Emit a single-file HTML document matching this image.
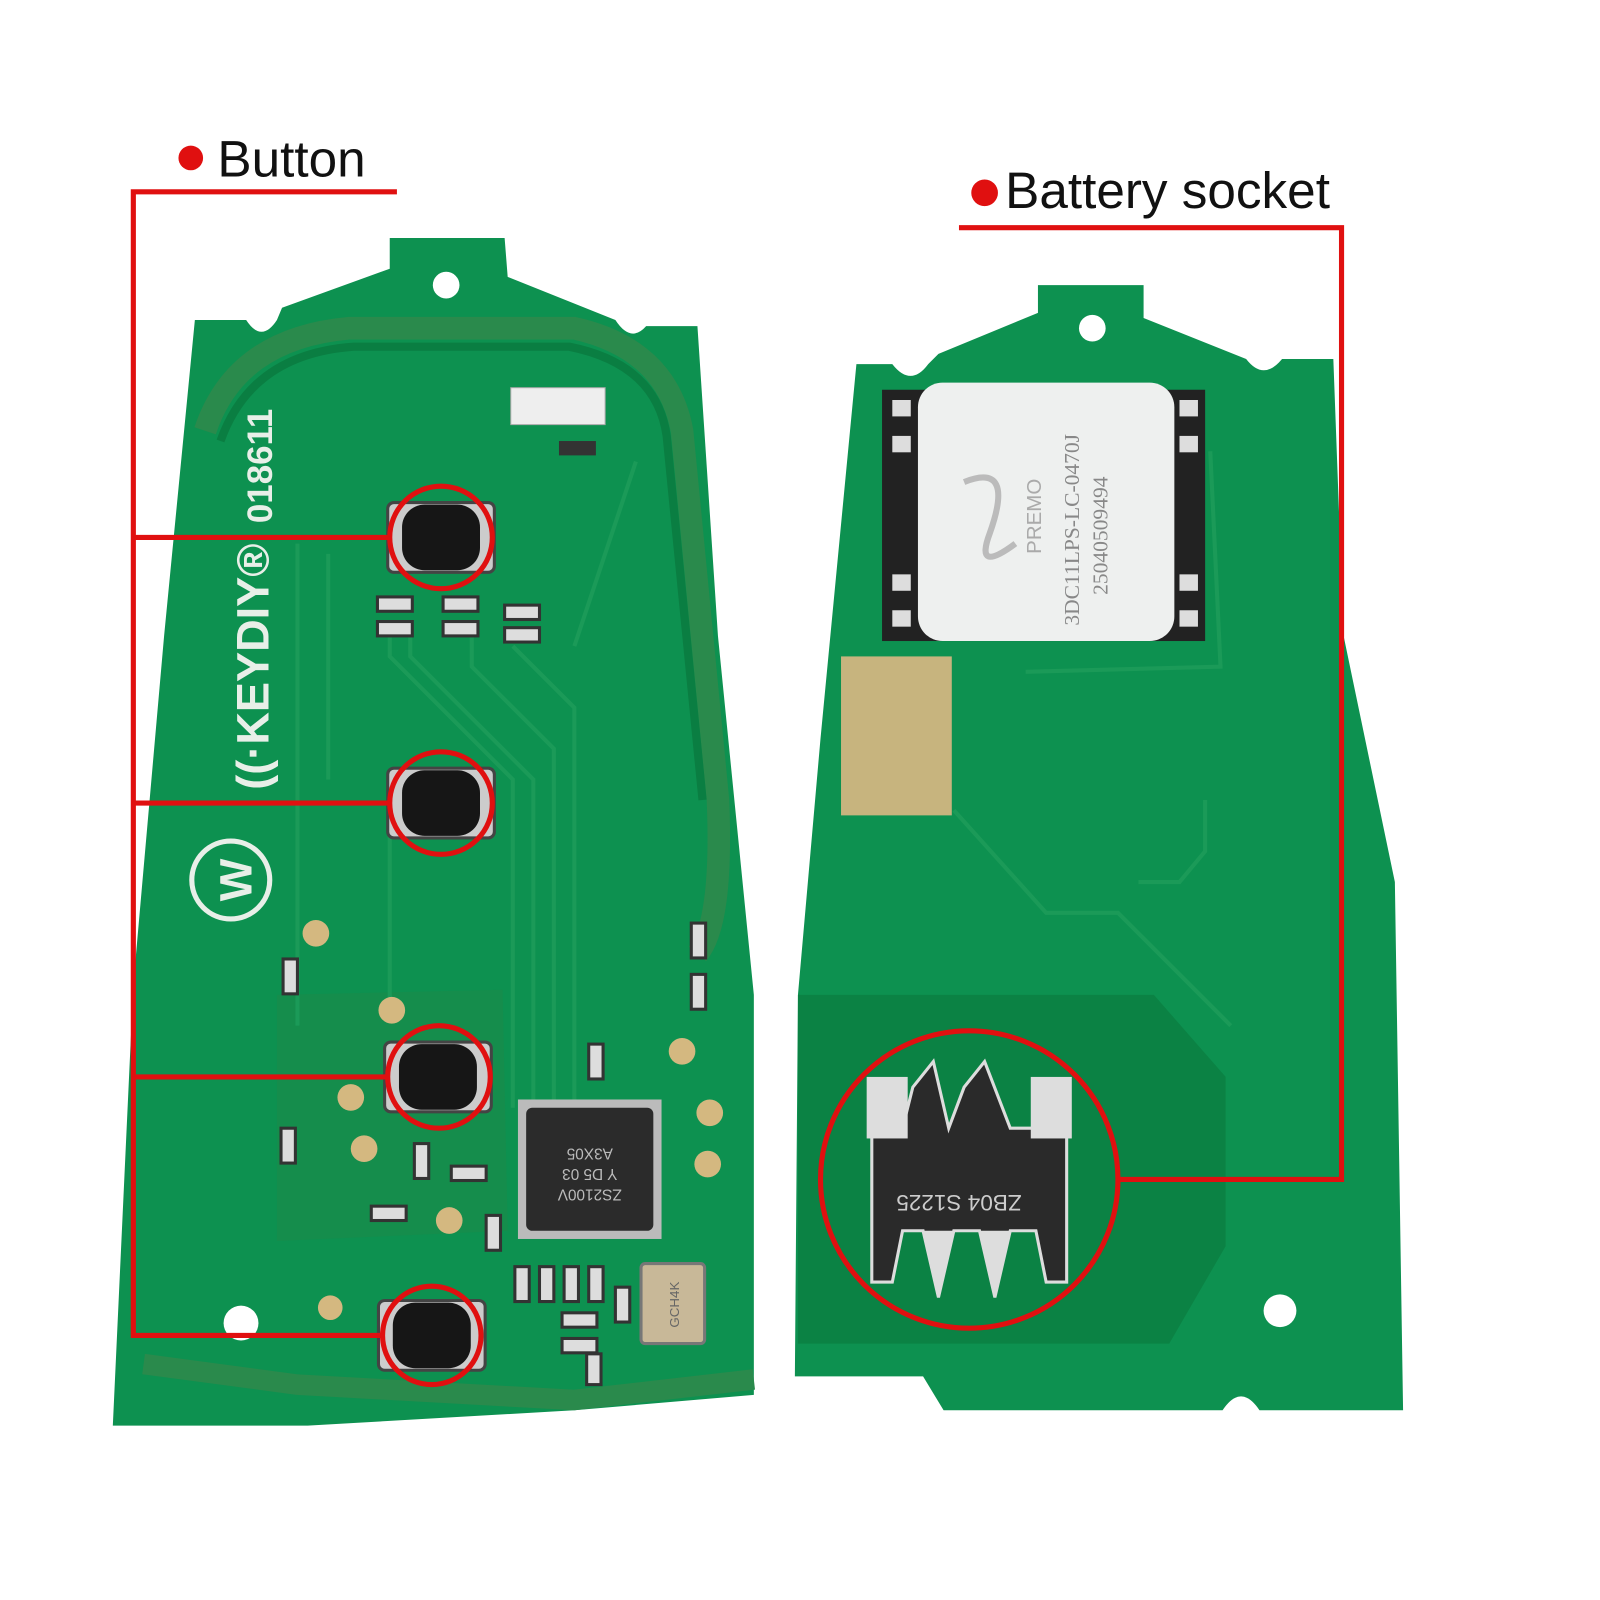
<!DOCTYPE html>
<html><head><style>html,body{margin:0;padding:0;background:#fff}svg{display:block}</style></head>
<body>
<svg width="1600" height="1600" viewBox="0 0 1560 1560" xmlns="http://www.w3.org/2000/svg" font-family="Liberation Sans, sans-serif">
<defs>
<g id="btn"><rect x="-52" y="-34" width="104" height="68" rx="6" fill="#ccc" stroke="#444" stroke-width="3"/><rect x="-38" y="-32" width="76" height="64" rx="22" fill="#161616"/></g>
</defs>
<!-- left PCB -->
<path d="M190,312 L240,312 Q255,335 270,312 L275,300 L380,262 L380,232 L492,232 L495,270 L600,312 Q615,335 630,318 L680,318 L700,620 L735,970 L735,1360 L560,1375 L300,1390 L110,1390 L130,960 L160,620 Z" fill="#0d9150"/>
<path d="M200,420 Q230,330 340,320 L560,320 Q650,340 665,420 L700,780 Q705,900 680,930" fill="none" stroke="#2a8a4c" stroke-width="22"/>
<path d="M215,430 Q245,345 345,338 L555,338 Q640,355 650,425 L685,780" fill="none" stroke="#0a7e42" stroke-width="8"/>
<path d="M140,1330 L290,1350 L560,1365 L735,1345" fill="none" stroke="#2a8a4c" stroke-width="20"/>
<path d="M270,970 L490,965 L495,1200 L270,1210 Z" fill="#1a8a4a" opacity=".6"/>
<circle cx="435" cy="278" r="13" fill="#fff"/>
<circle cx="235" cy="1290" r="17" fill="#fff"/>
<g fill="none" stroke="#1b9a58" stroke-width="4">
<path d="M380,615 L380,640 L500,760 L500,1080"/><path d="M400,615 L400,640 L520,760 L520,1080"/><path d="M460,615 L460,650 L540,730 L540,1080"/><path d="M500,630 L560,690 L560,1080"/><path d="M320,540 L320,760"/><path d="M290,530 L290,1000"/><path d="M560,630 L620,450"/><path d="M380,800 L380,980"/>
</g>
<rect x="498" y="378" width="92" height="36" fill="#eee" stroke="#aaa"/>
<rect x="545" y="430" width="36" height="14" fill="#333"/>
<text transform="translate(265,510) rotate(-90)" fill="#e8efe8" font-size="34" font-weight="bold">018611</text>
<text transform="translate(262,770) rotate(-90)" fill="#e8efe8" font-size="44" font-weight="bold">((·KEYDIY®</text>
<circle cx="225" cy="858" r="38" fill="none" stroke="#e8efe8" stroke-width="5"/>
<text transform="translate(245,858) rotate(-90)" fill="#e8efe8" font-size="44" text-anchor="middle" font-weight="bold">W</text>
<g fill="#d4b880"><circle cx="308" cy="910" r="13"/><circle cx="382" cy="985" r="13"/><circle cx="342" cy="1070" r="13"/><circle cx="355" cy="1120" r="13"/><circle cx="438" cy="1190" r="13"/><circle cx="665" cy="1025" r="13"/><circle cx="692" cy="1085" r="13"/><circle cx="690" cy="1135" r="13"/><circle cx="322" cy="1275" r="12"/></g>
<g fill="#ddd" stroke="#333" stroke-width="3">
<rect x="368" y="582" width="34" height="14"/><rect x="368" y="606" width="34" height="14"/><rect x="432" y="582" width="34" height="14"/><rect x="432" y="606" width="34" height="14"/><rect x="492" y="590" width="34" height="14"/><rect x="492" y="612" width="34" height="14"/>
<rect x="674" y="900" width="14" height="34"/><rect x="674" y="950" width="14" height="34"/><rect x="276" y="935" width="14" height="34"/><rect x="574" y="1018" width="14" height="34"/><rect x="274" y="1100" width="14" height="34"/><rect x="404" y="1115" width="14" height="34"/><rect x="440" y="1137" width="34" height="14"/><rect x="474" y="1185" width="14" height="34"/><rect x="362" y="1176" width="34" height="14"/>
<rect x="502" y="1235" width="14" height="34"/><rect x="526" y="1235" width="14" height="34"/><rect x="550" y="1235" width="14" height="34"/><rect x="574" y="1235" width="14" height="34"/><rect x="600" y="1255" width="14" height="34"/><rect x="548" y="1280" width="34" height="14"/><rect x="548" y="1305" width="34" height="14"/><rect x="572" y="1320" width="14" height="30"/>
</g>
<g transform="translate(575,1140)">
<rect x="-70" y="-68" width="140" height="136" fill="#bbb"/>
<rect x="-62" y="-60" width="124" height="120" rx="6" fill="#2b2b2b"/>
<text transform="rotate(180)" fill="#bbb" font-size="15" text-anchor="middle" y="-20">ZS2100V</text>
<text transform="rotate(180)" fill="#bbb" font-size="15" text-anchor="middle" y="0">Y D5 03</text>
<text transform="rotate(180)" fill="#bbb" font-size="15" text-anchor="middle" y="20">A3X05</text>
</g>
<rect x="625" y="1232" width="62" height="78" rx="4" fill="#c8b898" stroke="#777" stroke-width="3"/>
<text transform="translate(662,1272) rotate(-90)" fill="#666" font-size="13" text-anchor="middle">GCH4K</text>
<use href="#btn" x="430" y="524"/><use href="#btn" x="430" y="783"/><use href="#btn" x="427" y="1050"/><use href="#btn" x="421" y="1302"/>
<g fill="none" stroke="#e01010" stroke-width="5">
<circle cx="430" cy="524" r="50"/><circle cx="430" cy="783" r="50"/><circle cx="428" cy="1050" r="50"/><circle cx="421" cy="1302" r="48"/>
</g>
<!-- right PCB -->
<path d="M835,355 L870,355 Q888,378 905,355 L915,345 L1012,305 L1012,278 L1115,278 L1115,310 L1215,350 Q1232,372 1250,350 L1300,350 L1310,620 L1360,860 L1368,1375 L1228,1375 Q1210,1348 1192,1375 L920,1375 L900,1342 L775,1342 L778,970 L800,720 Z" fill="#0d9150"/>
<path d="M778,970 L1125,970 L1195,1050 L1195,1215 L1140,1310 L778,1310 Z" fill="#0b8244"/>
<circle cx="1065" cy="320" r="13" fill="#fff"/>
<circle cx="1248" cy="1278" r="16" fill="#fff"/>
<g fill="none" stroke="#1b9a58" stroke-width="4"><path d="M930,790 L1020,890 L1090,890 L1200,1000"/><path d="M1175,780 L1175,830 L1150,860 L1110,860"/><path d="M1180,440 L1190,650 L1000,655"/></g>
<rect x="860" y="380" width="315" height="245" fill="#222"/>
<g fill="#ddd"><rect x="870" y="390" width="18" height="16"/><rect x="870" y="425" width="18" height="16"/><rect x="870" y="560" width="18" height="16"/><rect x="870" y="595" width="18" height="16"/><rect x="1150" y="390" width="18" height="16"/><rect x="1150" y="425" width="18" height="16"/><rect x="1150" y="560" width="18" height="16"/><rect x="1150" y="595" width="18" height="16"/></g>
<rect x="895" y="373" width="250" height="252" rx="24" fill="#eef0ef"/>
<path d="M940,470 Q990,450 965,520 Q950,560 990,530" fill="none" stroke="#bbb" stroke-width="6"/>
<text transform="translate(1015,540) rotate(-90)" fill="#aaa" font-size="20">PREMO</text>
<text transform="translate(1052,610) rotate(-90)" fill="#888" font-family="Liberation Serif, serif" font-size="21">3DC11LPS-LC-0470J</text>
<text transform="translate(1080,580) rotate(-90)" fill="#888" font-family="Liberation Serif, serif" font-size="21">25040509494</text>
<rect x="820" y="640" width="108" height="155" fill="#c7b47e"/>
<path d="M850,1100 L880,1100 L890,1060 L910,1035 L925,1100 L940,1060 L960,1035 L985,1100 L1040,1100 L1040,1250 L1020,1250 L1010,1200 L985,1200 L970,1265 L955,1200 L930,1200 L915,1265 L900,1200 L880,1200 L870,1250 L850,1250 Z" fill="#2a2a2a" stroke="#ddd" stroke-width="3"/>
<rect x="845" y="1050" width="40" height="60" fill="#ddd"/><rect x="1005" y="1050" width="40" height="60" fill="#ddd"/>
<path d="M900,1200 L915,1265 L930,1200 Z M955,1200 L970,1265 L985,1200 Z" fill="#ddd"/>
<text transform="translate(935,1165) rotate(180)" fill="#ccc" font-size="22" text-anchor="middle">ZB04 S1225</text>
<circle cx="945" cy="1150" r="145" fill="none" stroke="#e01010" stroke-width="5"/>
<g fill="none" stroke="#e01010" stroke-width="5">
<path d="M387,187 L130,187 L130,1302 L372,1302"/><path d="M130,524 L380,524"/><path d="M130,783 L380,783"/><path d="M130,1050 L378,1050"/>
<path d="M935,222 L1308,222 L1308,1150 L1090,1150"/>
</g>
<circle cx="186" cy="154" r="12" fill="#e01010"/>
<text x="212" y="172" font-size="50" fill="#111">Button</text>
<circle cx="960" cy="188" r="13" fill="#e01010"/>
<text x="980" y="203" font-size="50" fill="#111">Battery socket</text>
</svg>
</body></html>
